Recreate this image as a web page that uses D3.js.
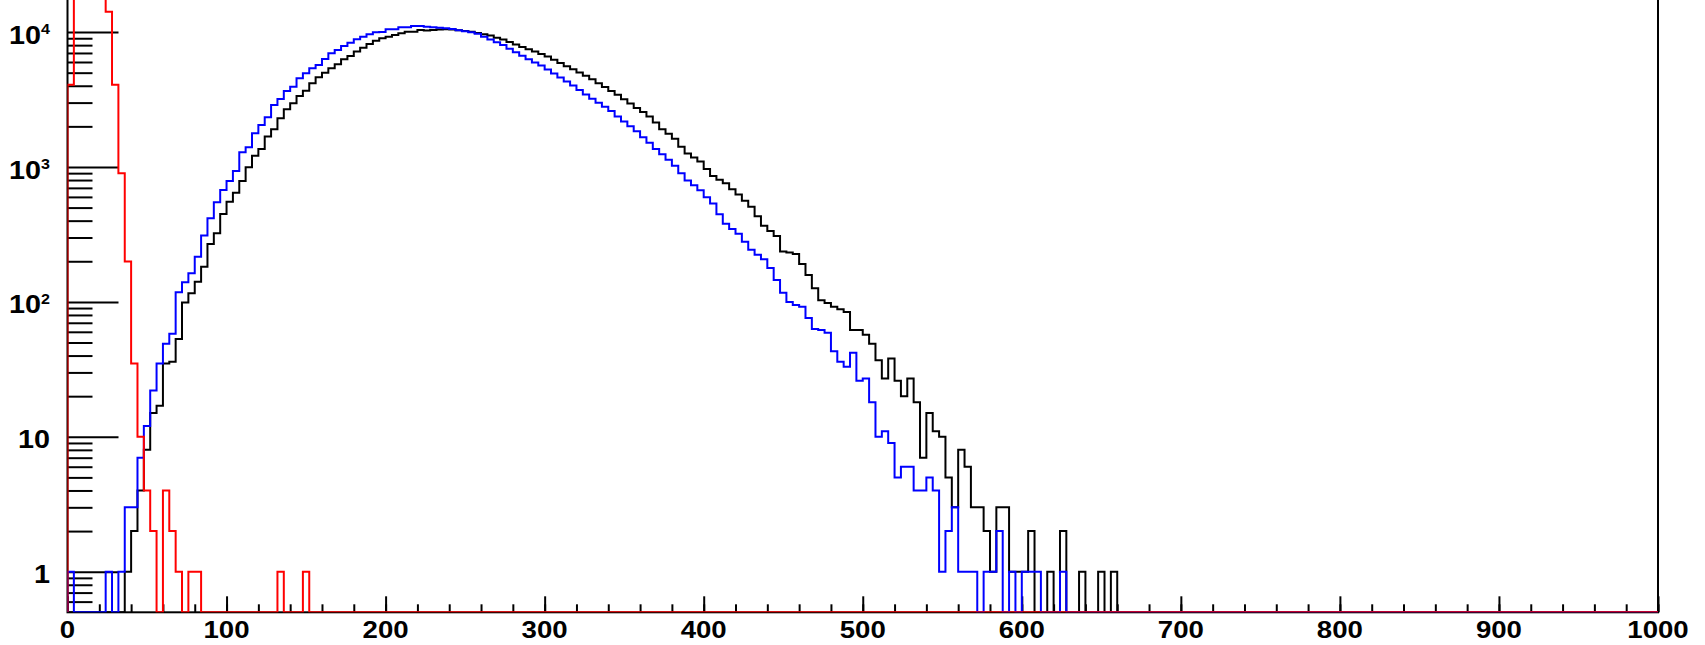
<!DOCTYPE html>
<html>
<head>
<meta charset="utf-8">
<script src="https://cdn.jsdelivr.net/npm/d3@7"></script>
<style>
  html, body { margin: 0; padding: 0; background: #fff; }
  svg { display: block; }
  text { font-family: "Liberation Sans", Arial, Helvetica, sans-serif; font-weight: bold; fill: #000; }
</style>
</head>
<body>
<div id="chart"></div>
<script>
// bins of width 4 starting at 0; bins past the end of each array are empty
const binWidth = 4;
const nBins = 250;

const countsBlack = [
    0, 0, 0, 0, 0, 0, 0, 0, 0, 1,
    2, 4, 8, 15, 17, 35, 36, 53, 99, 116,
    141, 182, 269, 323, 448, 553, 645, 788, 995, 1213,
    1359, 1679, 1902, 2296, 2677, 2966, 3359, 3680, 4172, 4623,
    5000, 5393, 5771, 6283, 6650, 7164, 7664, 8163, 8634, 8996,
    9248, 9522, 9800, 10070, 10070, 10370, 10280, 10380, 10470, 10500,
    10450, 10300, 10190, 10050, 9860, 9640, 9420, 9080, 8790, 8450,
    8090, 7760, 7460, 7180, 6890, 6580, 6240, 5900, 5580, 5300,
    5010, 4750, 4460, 4170, 3920, 3660, 3430, 3180, 2950, 2740,
    2560, 2370, 2140, 1905, 1760, 1620, 1410, 1260, 1175, 1100,
    966, 857, 804, 759, 684, 624, 562, 508, 432, 366,
    335, 308, 236, 232, 226, 191, 158, 126, 103, 98,
    92, 88, 84, 62, 62, 57, 49, 37, 27, 38,
    26, 20, 27, 18, 7, 15, 11, 10, 5, 3,
    8, 6, 3, 3, 2, 1, 3, 3, 1, 1,
    1, 2, 0, 0, 1, 0, 2, 0, 0, 1,
    0, 0, 1, 0, 1
];

const countsBlue = [
    1, 0, 0, 0, 0, 0, 1, 0, 1, 3,
    3, 7, 12, 22, 35, 49, 58, 118, 140, 163,
    216, 310, 417, 548, 676, 788, 934, 1284, 1400, 1778,
    2048, 2336, 2882, 3194, 3658, 3940, 4541, 4951, 5395, 5705,
    6324, 6966, 7369, 7894, 8342, 8844, 9250, 9633, 9960, 10000,
    10490, 10500, 10840, 10850, 11100, 11080, 10960, 10860, 10770, 10690,
    10520, 10330, 10140, 9950, 9730, 9250, 8810, 8410, 8020, 7530,
    7080, 6670, 6280, 5960, 5640, 5280, 4940, 4610, 4310, 4020,
    3720, 3450, 3210, 2990, 2790, 2600, 2370, 2170, 2000, 1840,
    1660, 1510, 1360, 1240, 1130, 1020, 900, 794, 733, 673,
    596, 537, 447, 380, 347, 320, 279, 243, 224, 207,
    178, 145, 117, 100, 95, 92, 76, 63, 62, 59,
    43, 36, 33, 42, 26, 27, 18, 10, 11, 9,
    5, 6, 6, 4, 4, 5, 4, 1, 2, 3,
    1, 1, 1, 0, 1, 1, 2, 0, 1, 0,
    1, 1, 1, 0, 0, 0, 1
];

const countsRed = [
    4070, 40000, 90000, 120000, 90000, 40000, 14170, 4070, 898, 199,
    35, 10, 4, 2, 0, 4, 2, 1, 0, 1,
    1, 0, 0, 0, 0, 0, 0, 0, 0, 0,
    0, 0, 0, 1, 0, 0, 0, 1
];

const xMajorTicks = d3.range(0, 1001, 100);
const xMinorTicks = d3.range(0, 1001, 20);
const yDecades = [1, 10, 100, 1000, 10000];
const yTickBase = ["1", "10", "10", "10", "10"];
const yTickPower = ["", "", "2", "3", "4"];

const width = 1705, height = 645;
const plotLeft = 67.5, plotRight = 1658, plotTop = -32.3, plotBottom = 612.3;

const svg = d3.select("#chart").append("svg")
    .attr("width", width)
    .attr("height", height);

const x = d3.scaleLinear()
    .domain([0, binWidth * nBins])
    .range([plotLeft, plotRight]);

const y = d3.scaleLog()
    .domain([0.5, 30000])
    .range([plotBottom, plotTop]);

svg.append("defs").append("clipPath")
    .attr("id", "plotClip")
    .append("rect")
    .attr("x", plotLeft)
    .attr("y", plotTop)
    .attr("width", plotRight - plotLeft)
    .attr("height", plotBottom - plotTop);

// ticks along the bottom point up into the frame
svg.append("g")
    .attr("transform", `translate(0,${plotBottom})`)
    .call(d3.axisBottom(x).tickValues(xMinorTicks).tickSizeInner(-8).tickSizeOuter(0).tickFormat(""))
    .call(g => g.select(".domain").remove())
    .call(g => g.selectAll("line").attr("stroke-width", 2));

svg.append("g")
    .attr("transform", `translate(0,${plotBottom})`)
    .call(d3.axisBottom(x).tickValues(xMajorTicks).tickSizeInner(-16).tickSizeOuter(0).tickFormat(""))
    .call(g => g.select(".domain").remove())
    .call(g => g.selectAll("line").attr("stroke-width", 2));

// log minor ticks: 2..9 of each decade, plus 0.6..0.9 below 1
const yMinorTicks = [0.6, 0.7, 0.8, 0.9];
[1, 10, 100, 1000, 10000].forEach(d => {
    for (let k = 2; k <= 9; k++) yMinorTicks.push(k * d);
});

svg.append("g")
    .attr("transform", `translate(${plotLeft},0)`)
    .call(d3.axisLeft(y).tickValues(yMinorTicks).tickSizeInner(-25).tickSizeOuter(0).tickFormat(""))
    .call(g => g.select(".domain").remove())
    .call(g => g.selectAll("line").attr("stroke-width", 2));

svg.append("g")
    .attr("transform", `translate(${plotLeft},0)`)
    .call(d3.axisLeft(y).tickValues(yDecades).tickSizeInner(-51).tickSizeOuter(0).tickFormat(""))
    .call(g => g.select(".domain").remove())
    .call(g => g.selectAll("line").attr("stroke-width", 2));

// frame
svg.append("rect")
    .attr("x", plotLeft)
    .attr("y", plotTop)
    .attr("width", plotRight - plotLeft)
    .attr("height", plotBottom - plotTop)
    .attr("fill", "none")
    .attr("stroke", "#000")
    .attr("stroke-width", 2);

// histogram outlines, empty bins drop to the frame bottom
function histPath(counts) {
    const pts = [[x(0), plotBottom]];
    for (let i = 0; i < nBins; i++) {
        const v = counts[i] || 0;
        const yy = v > 0 ? Math.max(plotTop, Math.min(plotBottom, y(v))) : plotBottom;
        pts.push([x(i * binWidth), yy]);
        pts.push([x((i + 1) * binWidth), yy]);
    }
    pts.push([x(nBins * binWidth), plotBottom]);
    return d3.line()(pts);
}

const hists = svg.append("g").attr("clip-path", "url(#plotClip)");

[[countsBlack, "#000000"], [countsBlue, "#0000ff"], [countsRed, "#ff0000"]].forEach(([counts, color]) => {
    hists.append("path")
        .attr("d", histPath(counts))
        .attr("fill", "none")
        .attr("stroke", color)
        .attr("stroke-width", 2)
        .attr("stroke-linejoin", "miter");
});

// x labels
svg.append("g").selectAll("text")
    .data(xMajorTicks)
    .enter().append("text")
    .attr("transform", d => `translate(${x(d)},637.5) scale(1.15,1)`)
    .attr("text-anchor", "middle")
    .style("font-size", "24px")
    .text(d => d);

// y labels with superscript exponents
const yLabels = svg.append("g").selectAll("text")
    .data(yDecades)
    .enter().append("text")
    .attr("transform", d => `translate(50,${y(d) + 11.6}) scale(1.15,1)`)
    .attr("text-anchor", "end")
    .style("font-size", "25px");

yLabels.append("tspan").text((d, i) => yTickBase[i]);
yLabels.append("tspan")
    .attr("dy", -9.6)
    .style("font-size", "14px")
    .text((d, i) => yTickPower[i]);
</script>
</body>
</html>
